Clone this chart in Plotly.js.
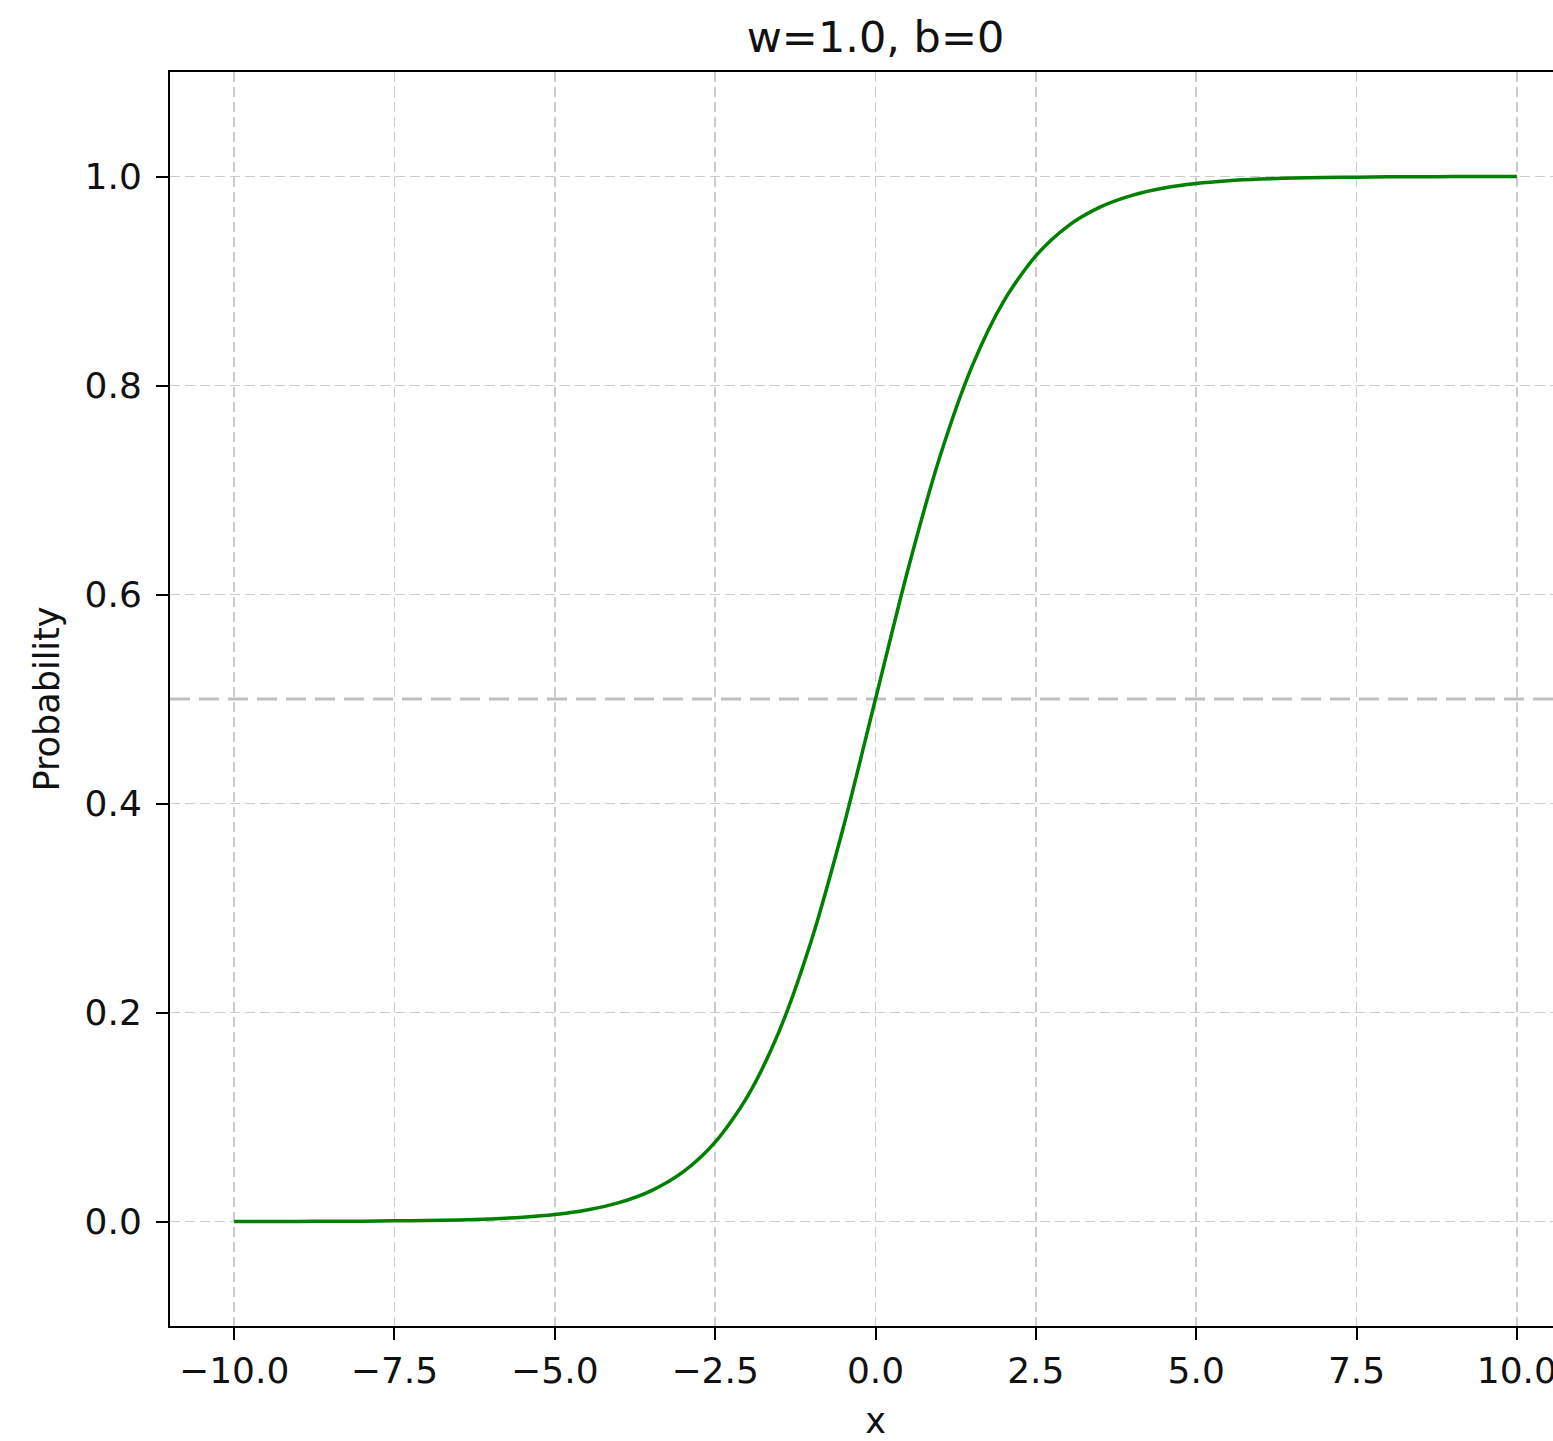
<!DOCTYPE html>
<html>
<head>
<meta charset="utf-8">
<script src="https://cdn.plot.ly/plotly-3.0.1.min.js"></script>
<style>
  html, body { margin: 0; padding: 0; overflow: hidden; background: #ffffff; }
  #chart { width: 1600px; height: 1441px; }
</style>
</head>
<body>
<div id="chart"></div>
<script>
// Values
const chartTitle = "w=1.0, b=0";
const xLabel = "x";
const yLabel = "Probability";
const xValues = [-10, -9.5, -9, -8.5, -8, -7.5, -7, -6.5, -6, -5.5, -5, -4.5, -4, -3.5, -3, -2.5, -2, -1.5, -1, -0.5,
                 0, 0.5, 1, 1.5, 2, 2.5, 3, 3.5, 4, 4.5, 5, 5.5, 6, 6.5, 7, 7.5, 8, 8.5, 9, 9.5, 10];
const probValues = [0.0000, 0.0001, 0.0001, 0.0002, 0.0003, 0.0006, 0.0009, 0.0015, 0.0025, 0.0041, 0.0067, 0.0110, 0.0180, 0.0293, 0.0474, 0.0759, 0.1192, 0.1824, 0.2689, 0.3775,
                    0.5000, 0.6225, 0.7311, 0.8176, 0.8808, 0.9241, 0.9526, 0.9707, 0.9820, 0.9890, 0.9933, 0.9959, 0.9975, 0.9985, 0.9991, 0.9994, 0.9997, 0.9998, 0.9999, 0.9999, 1.0000];
const threshold = 0.5;
const xTickStep = 2.5;
const yTickStep = 0.2;

const font = "DejaVu Sans, sans-serif";
const textColor = "#111111";

const trace = {
  x: xValues,
  y: probValues,
  type: "scatter",
  mode: "lines",
  line: { color: "#008000", width: 3.5, shape: "spline", smoothing: 0.8 },
  hoverinfo: "x+y",
  showlegend: false
};

const axisCommon = {
  showline: true,
  linecolor: "#000000",
  linewidth: 2,
  ticks: "outside",
  ticklen: 12,
  tickwidth: 2,
  tickcolor: "#000000",
  showgrid: true,
  gridcolor: "#cccccc",
  gridwidth: 1.5,
  griddash: "10px,5px",
  zeroline: false,
  ticklabeloverflow: "allow",
  tickfont: { family: font, size: 36, color: textColor }
};

const layout = {
  width: 1600,
  height: 1441,
  paper_bgcolor: "#ffffff",
  plot_bgcolor: "#ffffff",
  margin: { l: 170, r: 19, t: 72, b: 115 },
  font: { family: font, color: textColor },
  title: {
    text: chartTitle,
    font: { family: font, size: 43, color: textColor },
    x: 0.5, xref: "paper", xanchor: "center",
    y: 1, yref: "paper", yanchor: "bottom",
    pad: { b: 20 }
  },
  xaxis: Object.assign({}, axisCommon, {
    mirror: true,
    range: [-11, 11],
    tick0: 0, dtick: xTickStep,
    tickformat: ".1f",
    ticklabelstandoff: 0,
    title: { text: xLabel, font: { family: font, size: 35, color: textColor }, standoff: 28 }
  }),
  yaxis: Object.assign({}, axisCommon, {
    mirror: false,
    range: [-0.1, 1.1],
    tick0: 0, dtick: yTickStep,
    tickformat: ".1f",
    ticklabelstandoff: 7,
    title: { text: yLabel, font: { family: font, size: 35, color: textColor }, standoff: 14 }
  }),
  shapes: [{
    type: "line",
    xref: "paper", x0: 0, x1: 1,
    yref: "y", y0: threshold, y1: threshold,
    line: { color: "#bfbfbf", width: 3, dash: "20px,9px" },
    layer: "between"
  }]
};

Plotly.newPlot("chart", [trace], layout, { displayModeBar: false, staticPlot: true });
</script>
</body>
</html>
